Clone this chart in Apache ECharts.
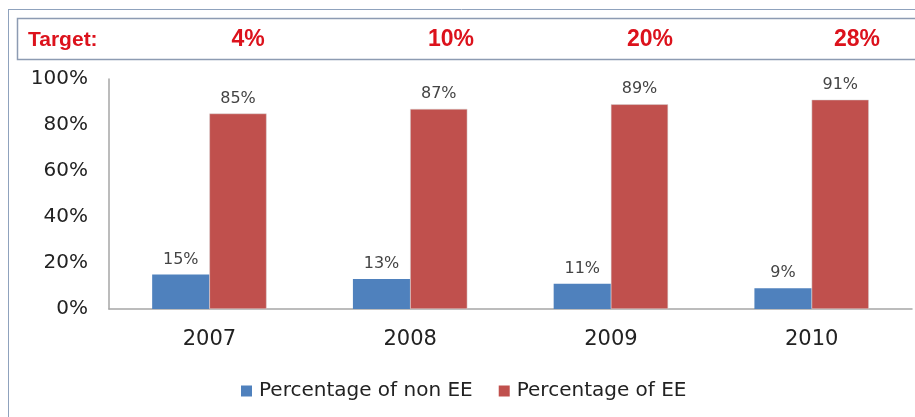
<!DOCTYPE html>
<html>
<head>
<meta charset="utf-8">
<script src="https://cdn.jsdelivr.net/npm/echarts@6/dist/echarts.min.js"></script>
<style>
  html, body { margin: 0; padding: 0; background: #fff; }
  #chart { width: 915px; height: 417px; }
</style>
</head>
<body>
<div id="chart"></div>
<script>
const years = ['2007', '2008', '2009', '2010']
const nonEE = [15, 13, 11, 9]
const ee = [85, 87, 89, 91]
const targets = ['4%', '10%', '20%', '28%']
const yTicks = [0, 20, 40, 60, 80, 100]

const chart = echarts.init(document.getElementById('chart'), null, { renderer: 'canvas' })

const font = 'DejaVu Sans'
const red = '#dc121c'
// centre x of each target figure in the header strip
const targetX = [248, 451, 650, 857]
const targetText = targets.map((t, i) => ({
  type: 'text',
  x: targetX[i],
  y: 40,
  style: {
    text: t,
    fill: red,
    font: 'bold 23px "Liberation Sans", sans-serif',
    align: 'center',
    verticalAlign: 'middle'
  }
}))

chart.setOption({
  animation: false,
  textStyle: { fontFamily: font },
  graphic: [
    { type: 'line', shape: { x1: 8, y1: 9.5, x2: 915, y2: 9.5 }, style: { stroke: '#8fa2bd', lineWidth: 1 } },
    { type: 'line', shape: { x1: 8.5, y1: 9, x2: 8.5, y2: 417 }, style: { stroke: '#8fa2bd', lineWidth: 1 } },
    { type: 'rect', shape: { x: 17.5, y: 18.5, width: 920, height: 41 }, style: { fill: '#fff', stroke: '#8d9bb2', lineWidth: 1.5 } },
    {
      type: 'text',
      x: 28,
      y: 40,
      style: {
        text: 'Target:',
        fill: red,
        font: 'bold 21px "Liberation Sans", sans-serif',
        verticalAlign: 'middle'
      }
    },
    ...targetText
  ],
  legend: {
    bottom: 11,
    left: 236,
    itemWidth: 11,
    itemHeight: 11,
    itemGap: 26,
    icon: 'rect',
    itemStyle: { borderWidth: 0 },
    textStyle: { fontSize: 20, color: '#222', fontFamily: font, padding: [0, 0, 0, 2] }
  },
  grid: {
    left: 109,
    right: 3,
    top: 79,
    bottom: 108,
    containLabel: false
  },
  xAxis: {
    type: 'category',
    data: years,
    axisLine: { lineStyle: { color: '#a6a6a6', width: 1.5 } },
    axisTick: { show: false },
    axisLabel: { fontSize: 21, color: '#222', margin: 20 }
  },
  yAxis: {
    type: 'value',
    min: yTicks[0],
    max: yTicks[yTicks.length - 1],
    interval: 20,
    splitLine: { show: false },
    axisLine: { show: true, lineStyle: { color: '#a6a6a6', width: 1.5 } },
    axisTick: { show: false },
    axisLabel: { fontSize: 20, color: '#222', margin: 21, formatter: '{value}%' }
  },
  series: [
    {
      name: 'Percentage of non EE',
      type: 'bar',
      data: nonEE,
      barWidth: '28.5%',
      barGap: '0%',
      itemStyle: { color: '#4f81bd' },
      label: { show: true, position: 'top', formatter: '{c}%', fontSize: 16, color: '#444', distance: 7 }
    },
    {
      name: 'Percentage of EE',
      type: 'bar',
      data: ee,
      barWidth: '28.5%',
      itemStyle: { color: '#c0504d', borderColor: '#d9d9d9', borderWidth: 0.5 },
      label: { show: true, position: 'top', formatter: '{c}%', fontSize: 16, color: '#444', distance: 7 }
    }
  ]
})
</script>
</body>
</html>
